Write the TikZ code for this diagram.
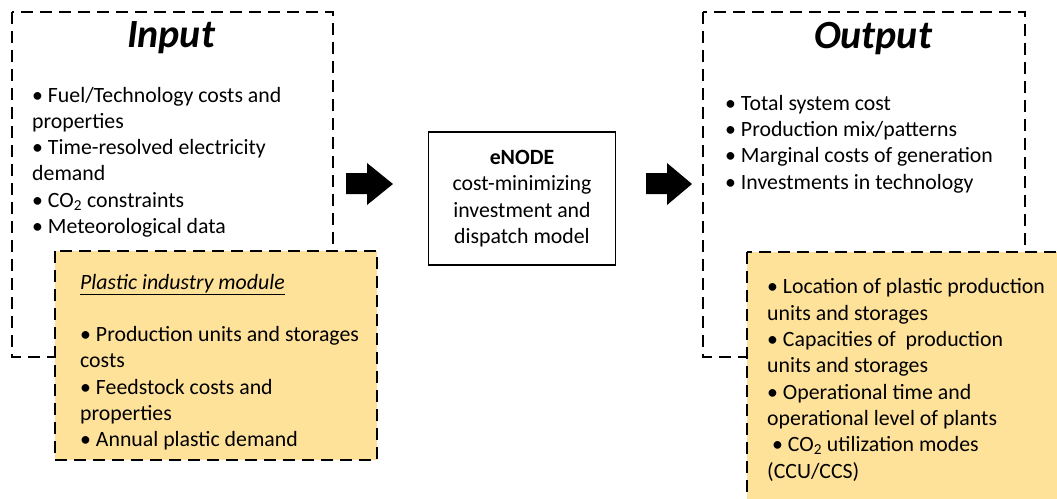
\documentclass[tikz,border=0pt]{standalone}
\usepackage{fontspec}
\setmainfont{Carlito}
\definecolor{plasticyellow}{RGB}{254,226,154}
\begin{document}
\begin{tikzpicture}[x=1pt,y=-1pt,
  dbox/.style={draw=black, line width=1.8pt, dash pattern=on 12pt off 7pt},
  ybox/.style={dbox, fill=plasticyellow},
  bodyfont/.style={font=\fontsize{21.8}{26.3}\selectfont},
  txt/.style={bodyfont, align=left, inner sep=0pt, anchor=base west},
  ttl/.style={font=\fontsize{40}{48}\selectfont\bfseries\itshape, inner sep=0pt, anchor=base},
  blockarrow/.style={fill=black, draw=none}]
\useasboundingbox (0,0) rectangle (1057,498);
\clip (0,0) rectangle (1057,498);
% input side
\draw[dbox] (12,12) rectangle (333,357);
\node[ttl] (intitle) at (171,47.5) {Input};
\node[txt] (inlist) at (32,233.5) {• Fuel/Technology costs and\\properties\\• Time-resolved electricity\\demand\\• CO\textsubscript{2} constraints\\• Meteorological data};
\draw[ybox] (55,251) rectangle (377,460);
\node[txt] (plastic) at (80,446.8) {\underline{\textit{Plastic industry module}}\\[26.3pt]• Production units and storages\\costs\\• Feedstock costs and\\properties\\• Annual plastic demand};
% model
\node[draw=black, line width=1.3pt, minimum width=187pt, minimum height=133pt, bodyfont, align=center] (enode) at (522,198.5) {\textbf{eNODE}\\cost-minimizing\\investment and\\dispatch model};
\fill[blockarrow] (346,173) -- (367,173) -- (367,163) -- (393,184) -- (367,205) -- (367,194) -- (346,194) -- cycle;
\fill[blockarrow] (646,173) -- (667,173) -- (667,163) -- (692,184) -- (667,205) -- (667,194) -- (646,194) -- cycle;
% output side
\draw[dbox] (703,12) rectangle (1025,357);
\node[ttl] (outtitle) at (873,48) {Output};
\node[txt] (outlist) at (725,189) {• Total system cost\\• Production mix/patterns\\• Marginal costs of generation\\• Investments in technology};
\draw[ybox] (747,252) rectangle (1080,520);
\node[txt] (outplastic) at (767,478) {• Location of plastic production\\units and storages\\• Capacities of\ \ production\\units and storages\\• Operational time and\\operational level of plants\\\ • CO\textsubscript{2} utilization modes\\(CCU/CCS)};
\end{tikzpicture}
\end{document}
